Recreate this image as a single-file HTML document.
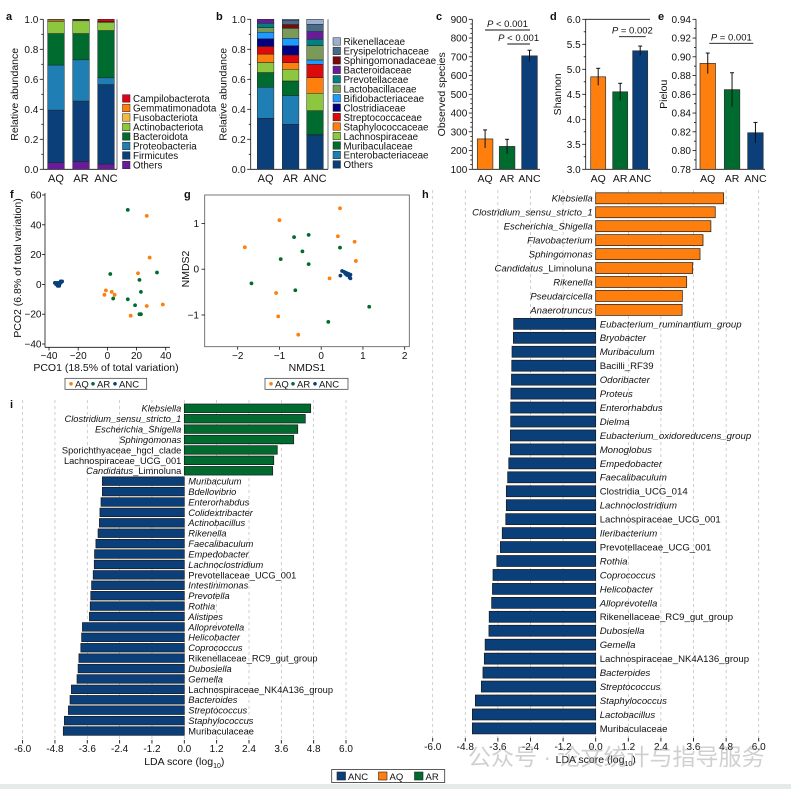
<!DOCTYPE html>
<html><head><meta charset="utf-8"><style>
body{margin:0;background:#fff;}
svg{display:block;font-family:"Liberation Sans","Noto Sans CJK SC",sans-serif;}
</style></head><body>
<svg id="fig" width="791" height="789" viewBox="0 0 791 789" xmlns="http://www.w3.org/2000/svg">
<rect x="0" y="0" width="791" height="789" fill="#fff"/>
<rect x="0" y="784" width="791" height="5" fill="#e4ebe8"/>
</svg>
<script>
// ===== Data: panel a (phyla, bottom->top) =====
const phylaNames = ["Others","Firmicutes","Proteobacteria","Bacteroidota","Actinobacteriota","Fusobacteriota","Gemmatimonadota","Campilobacterota"];
const phylaColors = ["#6a1b9a","#0a3f7a","#1f7fb4","#006b2e","#8dc63f","#f5b942","#ff7f0e","#e0001a"];
const phylaAQ = [0.045,0.35,0.30,0.21,0.08,0.01,0.005,0.0];
const phylaAR = [0.052,0.403,0.275,0.175,0.085,0.005,0.003,0.002];
const phylaANC = [0.035,0.53,0.045,0.315,0.055,0.002,0.003,0.015];
// ===== Data: panel b (families, bottom->top) =====
const famNames = ["Others","Enterobacteriaceae","Muribaculaceae","Lachnospiraceae","Staphylococcaceae","Streptococcaceae","Clostridiaceae","Bifidobacteriaceae","Lactobacillaceae","Prevotellaceae","Bacteroidaceae","Sphingomonadaceae","Erysipelotrichaceae","Rikenellaceae"];
const famColors = ["#0a3f7a","#1f7fb4","#006b2e","#8dc63f","#ff7f0e","#dc0a0a","#00007f","#1e9bff","#7a9a5a","#008080","#6a1b9a","#7a0a0a","#4a6a8a","#9bb0cf"];
const famAQ = [0.34,0.207,0.098,0.067,0.056,0.051,0.051,0.044,0.031,0.029,0.026,0,0,0];
const famAR = [0.30,0.191,0.098,0.078,0.044,0.051,0.062,0.049,0.067,0,0,0.025,0.029,0.006];
const famANC = [0.229,0.002,0.16,0.116,0.104,0.089,0,0.029,0.095,0.043,0.051,0,0.049,0.033];
const groups = ["AQ","AR","ANC"];
const groupColors = ["#ff7f0e","#006b2e","#0a3f7a"];
// ===== Data: alpha diversity =====
const obsMean = [262,222,705], obsErr = [48,38,30];
const shanMean = [4.85,4.55,5.37], shanErr = [0.17,0.17,0.095];
const pielMean = [0.893,0.865,0.819], pielErr = [0.011,0.018,0.011];
// ===== Data: PCoA (f) =====
const pcoAQx = [27,29,21,-1,-2,3,5,27,38,16];
const pcoAQy = [46,18,7.5,-4,-7,-5,-7,-14.5,-13.5,-21];
const pcoARx = [14,2,34,22,23,4,14,19,23,22];
const pcoARy = [50,7,8,3,-5,-9.5,-10,-14,-20,-20];
const pcoANCx = [-36,-35,-34,-33,-32,-31,-33,-34,-35,-32];
const pcoANCy = [1,0,-1,0,1,2,-1,1,1,2];
// ===== Data: NMDS (g) =====
const nmAQx = [0.45,-1.0,-1.83,0.4,0.8,0.83,0.2,-1.08,-1.03,-0.55];
const nmAQy = [1.33,1.07,0.48,0.72,0.6,0.18,-0.2,-0.52,-1.03,-1.43];
const nmARx = [-0.65,-0.3,0.45,-0.45,-0.97,-0.3,-1.67,-0.62,1.15,0.17];
const nmARy = [0.7,0.75,0.47,0.39,0.22,0.11,-0.31,-0.46,-0.82,-1.15];
const nmANCx = [0.5,0.55,0.6,0.65,0.7,0.62,0.68,0.46,0.58,0.7];
const nmANCy = [-0.04,-0.06,-0.08,-0.1,-0.12,-0.13,-0.18,-0.14,-0.1,-0.2];
// ===== Data: LEfSe h (AQ vs ANC) =====
const hTaxa = ["Klebsiella","Clostridium_sensu_stricto_1","Escherichia_Shigella","Flavobacterium","Sphingomonas","Candidatus_Limnoluna","Rikenella","Pseudarcicella","Anaerotruncus","Eubacterium_ruminantium_group","Bryobacter","Muribaculum","Bacilli_RF39","Odoribacter","Proteus","Enterorhabdus","Dielma","Eubacterium_oxidoreducens_group","Monoglobus","Empedobacter","Faecalibaculum","Clostridia_UCG_014","Lachnoclostridium","Lachnospiraceae_UCG_001","Ileribacterium","Prevotellaceae_UCG_001","Rothia","Coprococcus","Helicobacter","Alloprevotella","Rikenellaceae_RC9_gut_group","Dubosiella","Gemella","Lachnospiraceae_NK4A136_group","Bacteroides","Streptococcus","Staphylococcus","Lactobacillus","Muribaculaceae"];
const hLDA = [4.71,4.40,4.24,3.95,3.84,3.57,3.35,3.19,3.18,-3.02,-3.03,-3.08,-3.09,-3.10,-3.12,-3.13,-3.13,-3.14,-3.14,-3.20,-3.24,-3.29,-3.29,-3.31,-3.44,-3.51,-3.64,-3.78,-3.80,-3.83,-3.92,-3.93,-4.07,-4.10,-4.15,-4.21,-4.43,-4.54,-4.54];
// ===== Data: LEfSe i (AR vs ANC) =====
const iTaxa = ["Klebsiella","Clostridium_sensu_stricto_1","Escherichia_Shigella","Sphingomonas","Sporichthyaceae_hgcI_clade","Lachnospiraceae_UCG_001","Candidatus_Limnoluna","Muribaculum","Bdellovibrio","Enterorhabdus","Colidextribacter","Actinobacillus","Rikenella","Faecalibaculum","Empedobacter","Lachnoclostridium","Prevotellaceae_UCG_001","Intestinimonas","Prevotella","Rothia","Alistipes","Alloprevotella","Helicobacter","Coprococcus","Rikenellaceae_RC9_gut_group","Dubosiella","Gemella","Lachnospiraceae_NK4A136_group","Bacteroides","Streptococcus","Staphylococcus","Muribaculaceae"];
const iLDA = [4.69,4.49,4.21,4.06,3.45,3.32,3.28,-3.04,-3.04,-3.09,-3.13,-3.15,-3.20,-3.28,-3.33,-3.34,-3.38,-3.44,-3.47,-3.49,-3.52,-3.78,-3.81,-3.84,-3.91,-3.94,-3.98,-4.19,-4.24,-4.30,-4.45,-4.49];
const ldaTicks = ["-6.0","-4.8","-3.6","-2.4","-1.2","0.0","1.2","2.4","3.6","4.8","6.0"];
const plainTaxa = ["Bacilli_RF39","Clostridia_UCG_014","Lachnospiraceae_UCG_001","Prevotellaceae_UCG_001","Rikenellaceae_RC9_gut_group","Lachnospiraceae_NK4A136_group","Muribaculaceae","Sporichthyaceae_hgcI_clade"];

const svg = document.getElementById('fig');
const NS = "http://www.w3.org/2000/svg";
function mk(tag, a){const e=document.createElementNS(NS,tag);for(const k in a)e.setAttribute(k,a[k]);svg.appendChild(e);return e;}
function tx(x,y,s,size,anchor,extra){const e=mk('text',Object.assign({x:x,y:y,'font-size':size,'text-anchor':anchor||'start',fill:'#111'},extra||{}));e.textContent=s;return e;}
function ln(x1,y1,x2,y2,c,w,extra){return mk('line',Object.assign({x1:x1,y1:y1,x2:x2,y2:y2,stroke:c||'#111','stroke-width':w||0.8},extra||{}));}

let el;
[["a",6,20],["b",216,20],["c",436,20],["d",550,20],["e",658,20],["f",10,198],["g",184,198],["h",422,198],["i",10,408]].forEach(p=>{
  el=tx(p[1],p[2],p[0],11,'start',{'font-weight':'bold'});
  
  
});

// ===== Stacked bar panels =====
function stacked(id, axX, rightX, barXs, barW, series, names, colors, legX, legY0, legStep, titleX){
  const y0=169.3, y1=19.3;
  const Y=v=>y0-(y0-y1)*v;
  el=ln(axX,y1,axX,y0);
  
  
  el=ln(rightX,y1,rightX,y0,'#111',0.6);
  
  
  el=ln(axX,y0,rightX,y0);
  
  
  for(let k=0;k<=10;k++){
    const v=k/10;
    el=ln(axX-(k%2?2:3.5),Y(v),axX,Y(v));
    
    
    if(k%2===0){
      el=tx(axX-5,Y(v)+3.5,v.toFixed(1),10,'end');
      
      
    }
  }
  el=tx(0,0,"Relative abundance",10.5,'middle',{transform:`translate(${titleX},${(y0+y1)/2}) rotate(-90)`});
  
  
  series.forEach((vals,gi)=>{
    let cum=0;
    vals.forEach((v,si)=>{
      if(v<=0) return;
      el=mk('rect',{x:barXs[gi],y:Y(cum+v),width:barW,height:Y(cum)-Y(cum+v),fill:colors[si],stroke:'#222','stroke-width':0.5});
      
      
      cum+=v;
    });
    el=tx(barXs[gi]+barW/2,182,groups[gi],11,'middle');
    
    
  });
  const order=names.map((n,i)=>i).reverse();
  order.forEach((si,r)=>{
    const y=legY0+r*legStep;
    el=mk('rect',{x:legX,y:y-4,width:7.5,height:7.5,fill:colors[si],stroke:'#222','stroke-width':0.5});
    
    
    el=tx(legX+10.5,y+3.5,names[si],9.8,'start');
    
    
  });
}
stacked('panel-a',43.3,117,[47.7,72.7,97.7],16.6,[phylaAQ,phylaAR,phylaANC],phylaNames,phylaColors,122.5,98.7,9.5,18);
stacked('panel-b',250.7,328,[257.3,282.3,306.7],16.6,[famAQ,famAR,famANC],famNames,famColors,333,41.7,9.46,226.5);

// ===== Alpha diversity panels =====
function alpha(id, axX, rightX, vmin, vmax, step, minor, dec, title, titleX, means, errs, barXs, barW, sig, topLine){
  const y0=169.3, y1=19.3;
  const Y=v=>y0-(y0-y1)*(v-vmin)/(vmax-vmin);
  el=ln(axX,y1,axX,y0);
  
  
  el=ln(axX,y0,rightX,y0);
  
  
  if(topLine){
    el=ln(axX,y1,rightX,y1);
    
    
  }
  const n=Math.round((vmax-vmin)/step);
  for(let k=0;k<=n;k++){
    const v=vmin+k*step;
    el=ln(axX-3.5,Y(v),axX,Y(v));
    
    
    el=tx(axX-5,Y(v)+3.5,v.toFixed(dec),10,'end');
    
    
    if(k<n){for(let m=1;m<minor;m++){
      el=ln(axX-2,Y(v+step*m/minor),axX,Y(v+step*m/minor));
      
      
    }}
  }
  el=tx(0,0,title,10.5,'middle',{transform:`translate(${titleX},${(y0+y1)/2}) rotate(-90)`});
  
  
  means.forEach((m,i)=>{
    el=mk('rect',{x:barXs[i],y:Y(m),width:barW,height:y0-Y(m),fill:groupColors[i],stroke:'#333','stroke-width':0.7});
    
    
    const cx=barXs[i]+barW/2;
    el=ln(cx,Y(m+errs[i]),cx,Y(m-errs[i]),'#111',1);
    
    
    el=ln(cx-2,Y(m+errs[i]),cx+2,Y(m+errs[i]),'#111',1);
    
    
    el=tx(cx,182,groups[i],10.5,'middle');
    
    
  });
  sig.forEach(s=>{
    el=ln(s[0],s[2],s[1],s[2],'#111',0.9);
    
    
    const t=tx((s[0]+s[1])/2,s[2]-3,'',9.5,'middle');
    const ti=document.createElementNS(NS,'tspan');ti.setAttribute('font-style','italic');ti.textContent='P';t.appendChild(ti);
    t.appendChild(document.createTextNode(' '+s[3]));
    
    
  });
}
alpha('panel-c',472.3,540,100,900,100,4,0,'Observed species',445,obsMean,obsErr,[477.3,499.3,521.7],15.6,[[485,530,30,'< 0.001'],[507.3,530,44,'< 0.001']],false);
alpha('panel-d',585.7,650,3.0,6.0,0.5,2,1,'Shannon',561,shanMean,shanErr,[590.7,612.7,632.7],15,[[619,645.7,36.7,'= 0.002']],true);
alpha('panel-e',696,765,0.78,0.94,0.02,2,2,'Pielou',667,pielMean,pielErr,[700,724.3,747.7],15.5,[[709.3,753.3,43.3,'= 0.001']],false);

// ===== Scatter panels =====
function scatterLegend(id,x,y,w){
  el=mk('rect',{x:x,y:y,width:w,height:11,fill:'#fff',stroke:'#333','stroke-width':0.7});
  
  
  let cx=x+6;
  groups.forEach((g,i)=>{
    el=mk('circle',{cx:cx,cy:y+5.5,r:1.8,fill:groupColors[i]});
    
    
    el=tx(cx+4,y+9,g,9.5,'start');
    
    
    cx+=22;
  });
}
// f
{
  const X=v=>49+(v+40)*1.459, Y=v=>195+(60-v)*1.49;
  el=ln(45,193,45,347.3);
  
  
  el=ln(45,347.3,170,347.3);
  
  
  [60,40,20,0,-20,-40].forEach(v=>{
    el=ln(42,Y(v),45,Y(v));
    
    
    el=tx(41.5,Y(v)+3.5,v<0?'\u2212'+(-v):String(v),10,'end');
    
    
  });
  [-40,-20,0,20,40].forEach(v=>{
    el=ln(X(v),347.3,X(v),350.5);
    
    
    el=tx(X(v),359,v<0?'\u2212'+(-v):String(v),10,'middle');
    
    
  });
  el=tx(106,371,'PCO1 (18.5% of total variation)',10.5,'middle');
  
  
  el=tx(0,0,'PCO2 (6.8% of total variation)',10.5,'middle',{transform:'translate(21,268) rotate(-90)'});
  
  
  [[pcoAQx,pcoAQy],[pcoARx,pcoARy],[pcoANCx,pcoANCy]].forEach((s,gi)=>{
    s[0].forEach((xv,k)=>{
      el=mk('circle',{cx:X(xv),cy:Y(s[1][k]),r:1.9,fill:groupColors[gi]});
      
      
    });
  });
  scatterLegend('panel-f',65,378.3,81.7);
}
// g
{
  const X=v=>321.2+v*41.75, Y=v=>269.2-v*45.8;
  el=mk('rect',{x:204.7,y:195,width:204.6,height:151.7,fill:'none',stroke:'#555','stroke-width':0.8});
  
  
  [1,0,-1].forEach(v=>{
    el=ln(201.5,Y(v),204.7,Y(v));
    
    
    el=tx(199,Y(v)+3.5,v===-1?'\u22121':String(v),10,'end');
    
    
  });
  [-2,-1,0,1,2].forEach(v=>{
    el=ln(X(v),346.7,X(v),349.7);
    
    
    el=tx(X(v),359,v<0?'\u2212'+(-v):String(v),10,'middle');
    
    
  });
  el=tx(307,371,'NMDS1',10.5,'middle');
  
  
  el=tx(0,0,'NMDS2',10.5,'middle',{transform:'translate(189,269) rotate(-90)'});
  
  
  [[nmAQx,nmAQy],[nmARx,nmARy],[nmANCx,nmANCy]].forEach((s,gi)=>{
    s[0].forEach((xv,k)=>{
      el=mk('circle',{cx:X(xv),cy:Y(s[1][k]),r:1.9,fill:groupColors[gi]});
      
      
    });
  });
  scatterLegend('panel-g',265,378.3,83);
}

// ===== LEfSe panels =====
function taxonLabel(t,x,y,anchor,size){
  const e=tx(x,y,'',size,anchor);
  if(t.startsWith('Candidatus_')){
    const a=document.createElementNS(NS,'tspan');a.setAttribute('font-style','italic');a.textContent='Candidatus';e.appendChild(a);
    e.appendChild(document.createTextNode(t.slice(10)));
  } else {
    if(plainTaxa.indexOf(t)<0) e.setAttribute('font-style','italic');
    e.textContent=t;
  }
  return e;
}
function lefse(id, zeroX, unit, y0, pitch, barH, taxa, vals, posColor, tickY, size, topGrid){
  const X=v=>zeroX+v*unit;
  ldaTicks.forEach(t=>{
    const v=parseFloat(t);
    el=ln(X(v),topGrid,X(v),tickY,'#bbb',0.7,{'stroke-dasharray':'3,3'});
    
    
    el=ln(X(v),tickY,X(v),tickY+3.5,'#111',0.9);
    
    
    el=tx(X(v),tickY+12,t,10,'middle');
    
    
  });
  vals.forEach((v,i)=>{
    const cy=y0+i*pitch;
    const x=Math.min(X(0),X(v)), w=Math.abs(X(v)-X(0));
    el=mk('rect',{x:x,y:cy-barH/2,width:w,height:barH,fill:v>0?posColor:'#0a3f7a',stroke:'#1a1a1a','stroke-width':0.7});
    
    
    el=taxonLabel(taxa[i], v>0?X(0)-3:X(0)+4, cy+3.4, v>0?'end':'start', size);
    
    
  });
  const t=tx(X(0),tickY+25,'LDA score (log',10.5,'middle');
  const sub=document.createElementNS(NS,'tspan');sub.setAttribute('font-size','7');sub.setAttribute('dy','3');sub.textContent='10';t.appendChild(sub);
  const cl=document.createElementNS(NS,'tspan');cl.setAttribute('dy','-3');cl.textContent=')';t.appendChild(cl);
  
  
}
lefse('panel-h',595.7,27.17,198.3,13.95,11,hTaxa,hLDA,'#ff7f0e',738,9.6,190);
lefse('panel-i',184.3,26.95,408.3,10.41,8.6,iTaxa,iLDA,'#006b2e',740,9.3,400);

// bottom legend
el=mk('rect',{x:331.7,y:769.5,width:113,height:13,fill:'#fff',stroke:'#333','stroke-width':0.8});


[["ANC","#0a3f7a",337],["AQ","#ff7f0e",378.5],["AR","#006b2e",414.5]].forEach(g=>{
  el=mk('rect',{x:g[2],y:772,width:8.5,height:8,fill:g[1],stroke:'#222','stroke-width':0.6});
  
  
  el=tx(g[2]+11,780,g[0],9.5,'start');
  
  
});
el=tx(468,765,'公众号 · 论文统计与指导服务',23,'start',{fill:'rgba(150,150,150,0.45)'});


</script>
</body></html>
